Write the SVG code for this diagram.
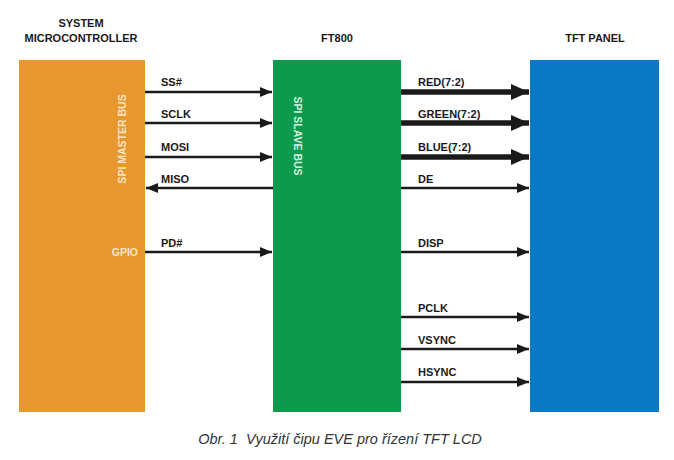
<svg xmlns="http://www.w3.org/2000/svg" width="674" height="460" viewBox="0 0 674 460">
<style>
.t{font-family:"Liberation Sans",Arial,sans-serif;font-weight:bold;font-size:11px;fill:#1a1a1a}
.w{font-family:"Liberation Sans",Arial,sans-serif;font-weight:bold;font-size:10.5px;fill:#f7e6c8}
.thin{stroke:#1a1a1a;stroke-width:2.6;fill:none}
.thick{stroke:#1a1a1a;stroke-width:5.5;fill:none}
.cap{font-family:"Liberation Sans",Arial,sans-serif;font-style:italic;font-size:14.5px;fill:#333}
</style>
<defs>
<marker id="a" markerUnits="userSpaceOnUse" markerWidth="14" markerHeight="12" refX="12" refY="5" orient="auto"><path d="M0,0 L12,5 L0,10 Z" fill="#1a1a1a"/></marker>
<marker id="b" markerUnits="userSpaceOnUse" markerWidth="20" markerHeight="18" refX="18" refY="8" orient="auto"><path d="M0,0 L18,8 L0,16 Z" fill="#1a1a1a"/></marker>
</defs>
<rect width="674" height="460" fill="#fff"/>
<g id="mcu">
<rect x="19" y="60" width="126" height="352" fill="#E8962E"/>
<text class="t" x="81" y="27" text-anchor="middle">SYSTEM</text>
<text class="t" x="81" y="42" text-anchor="middle">MICROCONTROLLER</text>
<text class="w" transform="translate(126,139) rotate(-90)" text-anchor="middle">SPI MASTER BUS</text>
<text class="w" x="138" y="256" text-anchor="end">GPIO</text>
</g>
<g id="ft800">
<rect x="273" y="60" width="128" height="352" fill="#0D9A4C"/>
<text class="t" x="337" y="42" text-anchor="middle">FT800</text>
<text class="w" style="fill:#d8f0e0" transform="translate(294,136) rotate(90)" text-anchor="middle">SPI SLAVE BUS</text>
</g>
<g id="tft">
<rect x="530" y="60" width="129" height="352" fill="#0B78C8"/>
<text class="t" x="595" y="42" text-anchor="middle">TFT PANEL</text>
</g>
<g id="connectors">
<line class="thin" x1="145" y1="92" x2="272" y2="92" marker-end="url(#a)"/>
<line class="thin" x1="145" y1="123" x2="272" y2="123" marker-end="url(#a)"/>
<line class="thin" x1="145" y1="157" x2="272" y2="157" marker-end="url(#a)"/>
<line class="thin" x1="273" y1="188" x2="146" y2="188" marker-end="url(#a)"/>
<line class="thin" x1="145" y1="252" x2="272" y2="252" marker-end="url(#a)"/>
<line class="thick" x1="401" y1="92" x2="529" y2="92" marker-end="url(#b)"/>
<line class="thick" x1="401" y1="123" x2="529" y2="123" marker-end="url(#b)"/>
<line class="thick" x1="401" y1="157" x2="529" y2="157" marker-end="url(#b)"/>
<line class="thin" x1="401" y1="188" x2="529" y2="188" marker-end="url(#a)"/>
<line class="thin" x1="401" y1="252" x2="529" y2="252" marker-end="url(#a)"/>
<line class="thin" x1="401" y1="317" x2="529" y2="317" marker-end="url(#a)"/>
<line class="thin" x1="401" y1="349" x2="529" y2="349" marker-end="url(#a)"/>
<line class="thin" x1="401" y1="382" x2="529" y2="382" marker-end="url(#a)"/>
<text class="t" x="161" y="86">SS#</text>
<text class="t" x="161" y="118">SCLK</text>
<text class="t" x="161" y="151">MOSI</text>
<text class="t" x="161" y="183">MISO</text>
<text class="t" x="161" y="247">PD#</text>
<text class="t" x="418" y="86">RED(7:2)</text>
<text class="t" x="418" y="118">GREEN(7:2)</text>
<text class="t" x="418" y="151">BLUE(7:2)</text>
<text class="t" x="418" y="183">DE</text>
<text class="t" x="418" y="247">DISP</text>
<text class="t" x="418" y="312">PCLK</text>
<text class="t" x="418" y="344">VSYNC</text>
<text class="t" x="418" y="376">HSYNC</text>
</g>
<text class="cap" x="340" y="444" text-anchor="middle">Obr. 1&#160; Využití čipu EVE pro řízení TFT LCD</text>
</svg>
